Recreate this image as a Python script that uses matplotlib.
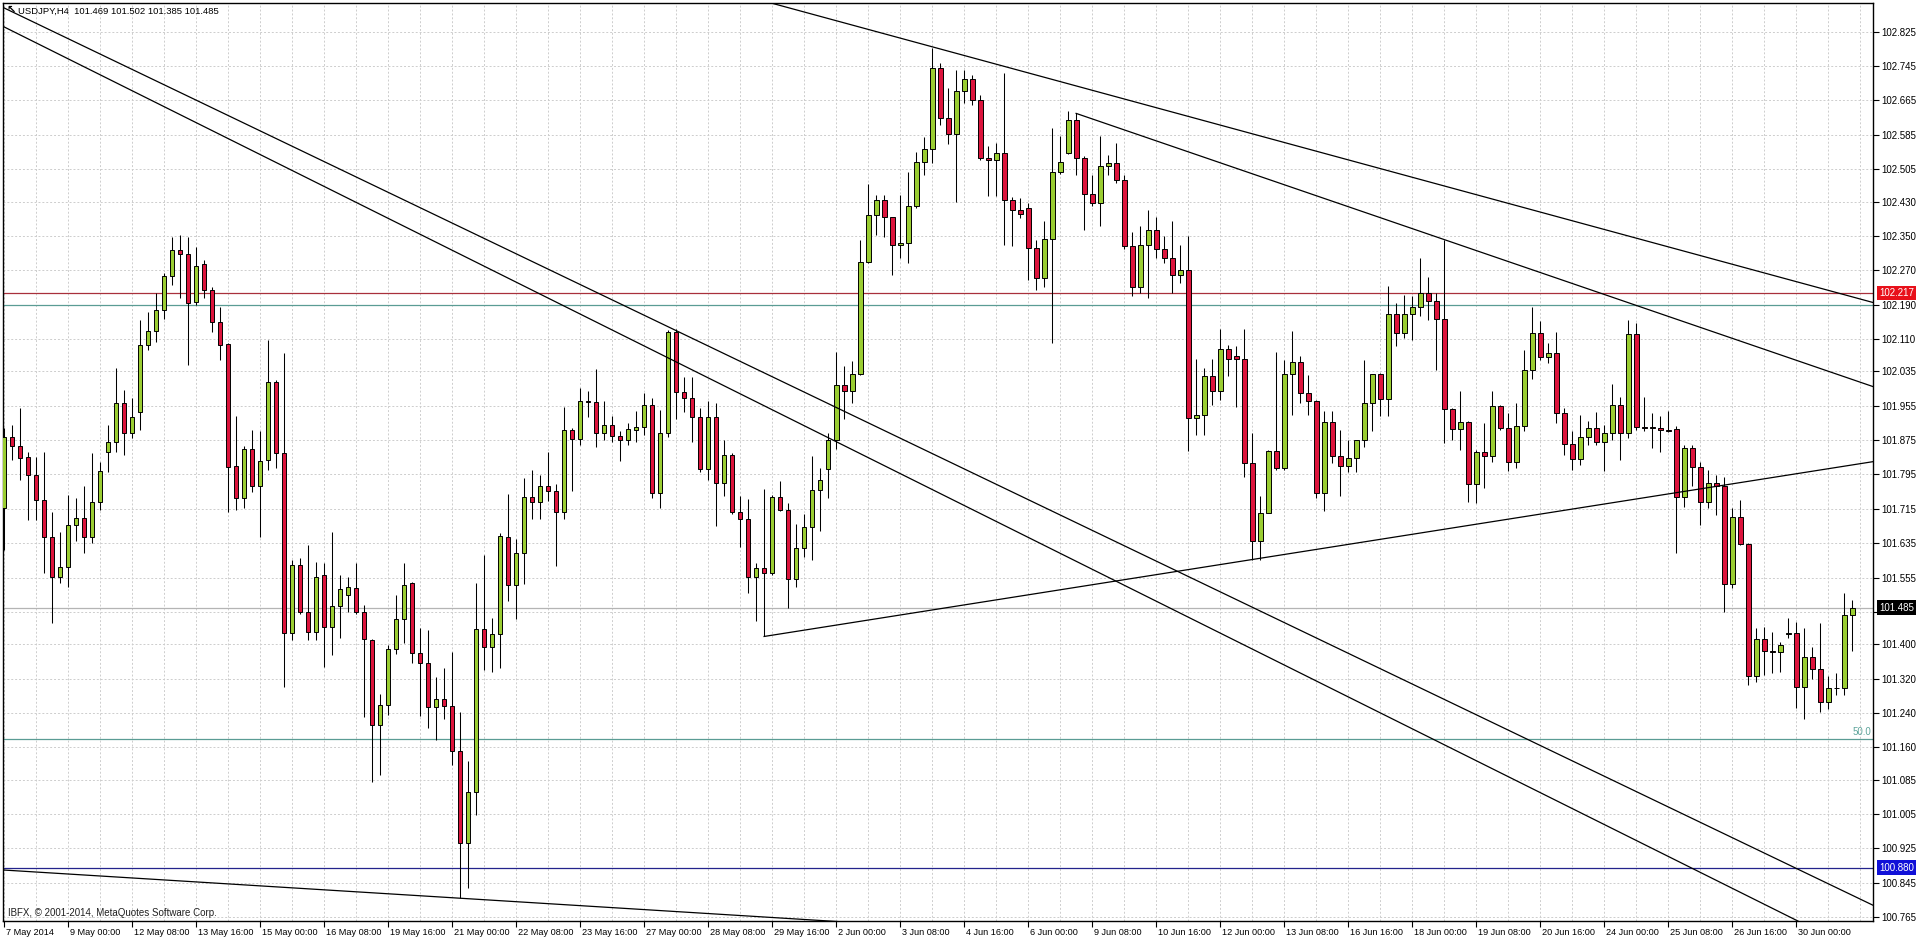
import matplotlib
matplotlib.use("Agg")
import matplotlib.pyplot as plt
import matplotlib.transforms as mtrans
from matplotlib.ticker import FixedLocator
import numpy as np

plt.rcParams['font.family'] = ['Liberation Sans', 'DejaVu Sans']

# USDJPY H4 bars, 7 May 16:00 .. 1 Jul 04:00
opens = [101.716, 101.883, 101.860, 101.836, 101.794, 101.736, 101.649, 101.557, 101.580, 101.677,
         101.693, 101.650, 101.732, 101.848, 101.871, 101.961, 101.891, 101.940, 102.096, 102.129,
         102.178, 102.257, 102.316, 102.308, 102.197, 102.285, 102.224, 102.149, 102.098, 101.815,
         101.740, 101.854, 101.768, 101.829, 102.011, 101.844, 101.426, 101.584, 101.476, 101.429,
         101.561, 101.441, 101.488, 101.514, 101.530, 101.476, 101.410, 101.212, 101.259, 101.388,
         101.458, 101.542, 101.379, 101.356, 101.253, 101.272, 101.257, 101.152, 100.937, 101.055,
         101.435, 101.393, 101.424, 101.650, 101.537, 101.613, 101.743, 101.732, 101.767, 101.756,
         101.707, 101.899, 101.878, 101.967, 101.964, 101.892, 101.910, 101.884, 101.875, 101.899,
         101.906, 101.957, 101.751, 101.892, 102.127, 101.986, 101.973, 101.929, 101.808, 101.929,
         101.776, 101.841, 101.707, 101.691, 101.556, 101.577, 101.566, 101.743, 101.713, 101.552,
         101.624, 101.672, 101.758, 101.808, 101.875, 102.003, 101.989, 102.029, 102.290, 102.398,
         102.433, 102.393, 102.328, 102.333, 102.419, 102.523, 102.553, 102.740, 102.625, 102.588,
         102.686, 102.715, 102.667, 102.531, 102.527, 102.544, 102.433, 102.411, 102.415, 102.322,
         102.252, 102.343, 102.498, 102.544, 102.619, 102.531, 102.448, 102.426, 102.513, 102.519,
         102.479, 102.327, 102.231, 102.329, 102.364, 102.319, 102.298, 102.260, 102.271, 101.926,
         101.934, 102.023, 101.988, 102.087, 102.071, 102.063, 101.821, 101.639, 101.705, 101.849,
         101.810, 102.029, 102.056, 101.984, 101.965, 101.752, 101.918, 101.837, 101.815, 101.833,
         101.874, 101.961, 102.029, 101.970, 102.169, 102.124, 102.169, 102.184, 102.217, 102.198,
         102.156, 101.947, 101.900, 101.918, 101.773, 101.848, 101.838, 101.954, 101.902, 101.825,
         101.908, 102.038, 102.125, 102.068, 102.077, 101.939, 101.866, 101.830, 101.883, 101.902,
         101.871, 101.892, 101.957, 101.891, 102.122, 101.906, 101.906, 101.902, 101.898, 101.900,
         101.743, 101.856, 101.813, 101.732, 101.774, 101.767, 101.540, 101.695, 101.633, 101.325,
         101.411, 101.385, 101.383, 101.424, 101.427, 101.301, 101.371, 101.342, 101.266, 101.297,
         101.299, 101.469]
highs = [101.902, 101.910, 101.949, 101.848, 101.836, 101.848, 101.708, 101.662, 101.747, 101.740,
         101.767, 101.844, 101.825, 101.910, 102.042, 101.992, 101.972, 102.154, 102.174, 102.217,
         102.263, 102.348, 102.352, 102.347, 102.325, 102.294, 102.230, 102.185, 102.100, 101.931,
         101.860, 101.899, 101.895, 102.108, 102.015, 102.077, 101.596, 101.600, 101.631, 101.592,
         101.588, 101.662, 101.560, 101.557, 101.588, 101.491, 101.412, 101.284, 101.398, 101.515,
         101.590, 101.545, 101.438, 101.433, 101.324, 101.344, 101.383, 101.243, 101.129, 101.542,
         101.607, 101.460, 101.658, 101.749, 101.645, 101.786, 101.805, 101.794, 101.848, 101.772,
         101.953, 101.903, 101.995, 101.989, 102.040, 101.967, 101.932, 101.897, 101.915, 101.943,
         101.984, 101.973, 101.946, 102.130, 102.133, 102.022, 102.022, 101.949, 101.967, 101.962,
         101.875, 101.845, 101.745, 101.737, 101.588, 101.762, 101.747, 101.780, 101.729, 101.680,
         101.702, 101.837, 101.810, 101.892, 102.079, 102.047, 102.060, 102.341, 102.471, 102.444,
         102.444, 102.395, 102.444, 102.498, 102.545, 102.580, 102.788, 102.753, 102.694, 102.737,
         102.735, 102.725, 102.678, 102.558, 102.566, 102.730, 102.440, 102.438, 102.426, 102.341,
         102.384, 102.601, 102.583, 102.640, 102.636, 102.535, 102.492, 102.583, 102.539, 102.566,
         102.492, 102.360, 102.372, 102.411, 102.395, 102.350, 102.384, 102.329, 102.349, 102.063,
         102.042, 102.063, 102.133, 102.097, 102.093, 102.133, 101.891, 101.744, 101.853, 102.081,
         102.062, 102.128, 102.070, 102.027, 101.969, 101.942, 101.942, 101.899, 101.876, 101.876,
         102.062, 102.029, 102.031, 102.234, 102.194, 102.213, 102.209, 102.298, 102.254, 102.217,
         102.340, 101.949, 101.988, 101.920, 101.853, 101.914, 101.988, 101.956, 101.937, 101.962,
         102.085, 102.185, 102.151, 102.100, 102.127, 101.949, 101.895, 101.933, 101.920, 101.941,
         101.910, 102.006, 101.976, 102.154, 102.147, 101.976, 101.939, 101.931, 101.943, 101.908,
         101.864, 101.864, 101.825, 101.805, 101.794, 101.788, 101.716, 101.736, 101.635, 101.437,
         101.441, 101.429, 101.406, 101.460, 101.452, 101.437, 101.394, 101.450, 101.325, 101.334,
         101.520, 101.502]
lows = [101.619, 101.829, 101.782, 101.689, 101.689, 101.565, 101.449, 101.542, 101.534, 101.639,
        101.612, 101.635, 101.712, 101.801, 101.848, 101.840, 101.879, 101.899, 102.085, 102.104,
        102.156, 102.236, 102.205, 102.050, 102.189, 102.205, 102.127, 102.061, 101.708, 101.712,
        101.716, 101.755, 101.650, 101.806, 101.809, 101.300, 101.410, 101.470, 101.410, 101.410,
        101.348, 101.375, 101.414, 101.476, 101.470, 101.230, 101.080, 101.096, 101.235, 101.377,
        101.402, 101.357, 101.232, 101.204, 101.177, 101.226, 101.119, 100.809, 100.832, 101.003,
        101.340, 101.336, 101.344, 101.501, 101.458, 101.539, 101.691, 101.691, 101.734, 101.583,
        101.691, 101.756, 101.864, 101.929, 101.859, 101.875, 101.870, 101.827, 101.864, 101.870,
        101.886, 101.740, 101.718, 101.881, 101.924, 101.940, 101.870, 101.800, 101.783, 101.675,
        101.745, 101.702, 101.626, 101.518, 101.455, 101.418, 101.560, 101.710, 101.485, 101.534,
        101.604, 101.596, 101.664, 101.740, 101.854, 101.924, 101.962, 102.027, 102.287, 102.352,
        102.347, 102.260, 102.298, 102.287, 102.415, 102.491, 102.520, 102.607, 102.563, 102.430,
        102.659, 102.655, 102.527, 102.442, 102.442, 102.329, 102.326, 102.391, 102.248, 102.225,
        102.232, 102.101, 102.495, 102.540, 102.492, 102.364, 102.419, 102.374, 102.492, 102.474,
        102.319, 102.209, 102.217, 102.205, 102.298, 102.287, 102.217, 102.240, 101.849, 101.887,
        101.887, 101.957, 101.969, 102.023, 101.953, 101.790, 101.597, 101.597, 101.705, 101.806,
        101.806, 101.934, 101.961, 101.934, 101.740, 101.709, 101.821, 101.744, 101.800, 101.800,
        101.859, 101.895, 101.932, 101.932, 102.093, 102.112, 102.108, 102.163, 102.155, 102.038,
        101.867, 101.875, 101.852, 101.732, 101.729, 101.763, 101.825, 101.899, 101.802, 101.809,
        101.895, 102.016, 102.061, 102.055, 101.914, 101.840, 101.805, 101.817, 101.864, 101.864,
        101.802, 101.875, 101.829, 101.879, 101.898, 101.895, 101.856, 101.848, 101.894, 101.613,
        101.720, 101.767, 101.677, 101.716, 101.701, 101.476, 101.530, 101.630, 101.305, 101.313,
        101.328, 101.334, 101.336, 101.414, 101.251, 101.225, 101.318, 101.243, 101.249, 101.282,
        101.282, 101.385]
closes = [101.883, 101.860, 101.833, 101.794, 101.736, 101.650, 101.557, 101.580, 101.677, 101.693,
          101.650, 101.732, 101.804, 101.871, 101.961, 101.891, 101.929, 102.096, 102.129, 102.178,
          102.257, 102.317, 102.308, 102.193, 102.280, 102.224, 102.149, 102.095, 101.813, 101.740,
          101.854, 101.768, 101.826, 102.011, 101.844, 101.427, 101.584, 101.476, 101.429, 101.557,
          101.441, 101.488, 101.528, 101.532, 101.476, 101.411, 101.212, 101.259, 101.388, 101.458,
          101.538, 101.380, 101.356, 101.253, 101.272, 101.257, 101.152, 100.937, 101.055, 101.435,
          101.393, 101.424, 101.652, 101.537, 101.613, 101.743, 101.732, 101.767, 101.756, 101.707,
          101.899, 101.878, 101.967, 101.964, 101.892, 101.910, 101.884, 101.875, 101.901, 101.906,
          101.957, 101.751, 101.892, 102.127, 101.986, 101.973, 101.929, 101.808, 101.929, 101.776,
          101.841, 101.707, 101.691, 101.556, 101.577, 101.566, 101.743, 101.713, 101.552, 101.624,
          101.672, 101.758, 101.783, 101.875, 102.003, 101.989, 102.029, 102.290, 102.398, 102.433,
          102.393, 102.328, 102.333, 102.419, 102.523, 102.553, 102.740, 102.625, 102.588, 102.686,
          102.715, 102.667, 102.531, 102.527, 102.544, 102.433, 102.411, 102.400, 102.322, 102.252,
          102.343, 102.498, 102.521, 102.619, 102.531, 102.448, 102.426, 102.513, 102.519, 102.479,
          102.327, 102.231, 102.329, 102.364, 102.319, 102.298, 102.260, 102.271, 101.926, 101.934,
          102.023, 101.988, 102.087, 102.063, 102.063, 101.821, 101.639, 101.705, 101.849, 101.810,
          102.029, 102.056, 101.984, 101.965, 101.752, 101.918, 101.837, 101.815, 101.833, 101.874,
          101.961, 102.029, 101.970, 102.169, 102.124, 102.169, 102.184, 102.217, 102.198, 102.156,
          101.947, 101.900, 101.918, 101.773, 101.848, 101.838, 101.954, 101.902, 101.825, 101.908,
          102.038, 102.125, 102.068, 102.077, 101.939, 101.866, 101.830, 101.883, 101.902, 101.871,
          101.892, 101.957, 101.891, 102.122, 101.906, 101.904, 101.902, 101.898, 101.896, 101.743,
          101.856, 101.813, 101.732, 101.774, 101.767, 101.540, 101.695, 101.633, 101.325, 101.411,
          101.385, 101.383, 101.398, 101.427, 101.301, 101.371, 101.342, 101.266, 101.297, 101.299,
          101.468, 101.485]

date_labels = ['7 May 2014', '9 May 00:00', '12 May 08:00', '13 May 16:00', '15 May 00:00',
               '16 May 08:00', '19 May 16:00', '21 May 00:00', '22 May 08:00', '23 May 16:00',
               '27 May 00:00', '28 May 08:00', '29 May 16:00', '2 Jun 00:00', '3 Jun 08:00',
               '4 Jun 16:00', '6 Jun 00:00', '9 Jun 08:00', '10 Jun 16:00', '12 Jun 00:00',
               '13 Jun 08:00', '16 Jun 16:00', '18 Jun 00:00', '19 Jun 08:00', '20 Jun 16:00',
               '24 Jun 00:00', '25 Jun 08:00', '26 Jun 16:00', '30 Jun 00:00']
price_ticks = [102.825, 102.745, 102.665, 102.585, 102.505, 102.430, 102.350, 102.270, 102.190,
               102.110, 102.035, 101.955, 101.875, 101.795, 101.715, 101.635, 101.555, 101.476,
               101.400, 101.320, 101.240, 101.160, 101.085, 101.005, 100.925, 100.845, 100.765]
price_labels = ['102.825', '102.745', '102.665', '102.585', '102.505', '102.430', '102.350',
                '102.270', '102.190', '102.110', '102.035', '101.955', '101.875', '101.795',
                '101.715', '101.635', '101.555', '', '101.400', '101.320', '101.240', '101.160',
                '101.085', '101.005', '100.925', '100.845', '100.765']

level_red = 102.217
level_teal = 102.190
level_fib50 = 101.180
level_blue = 100.880
last_price = 101.485

# trend lines: (first bar drawn, bar0, price0, bar1, price1, last bar drawn)
trend_lines = [
    (-0.4, -0.4, 102.840, 178.4, 101.181, 240),
    (-0.4, -0.4, 102.884, 178.4, 101.286, 240),
    (90, 116, 102.790, 234, 102.193, 240),
    (134, 134, 102.635, 179.6, 102.344, 240),
    (95, 95, 101.418, 156, 101.597, 240),
    (-0.4, -0.4, 100.875, 57, 100.809, 110),
]

W, H = 1916, 939
fig = plt.figure(figsize=(W / 100, H / 100), dpi=100)
ax = fig.add_axes([2.5 / W, (H - 921) / H, (1873 - 2.5) / W, (921 - 2.5) / H])
ax.set_xlim(-0.19, 233.6)
ax.set_ylim(100.756, 102.893)

o = np.array(opens)
h = np.array(highs)
l = np.array(lows)
c = np.array(closes)
x = np.arange(len(o))
up = c >= o
body_col = np.where(up, '#9acd32', '#dc143c')

ax.vlines(x, l, h, color='black', lw=0.75, zorder=3)
ax.bar(x, np.abs(c - o), bottom=np.minimum(o, c), width=0.6, color=body_col,
       edgecolor='black', linewidth=0.7, zorder=4)

# levels
ax.axhline(level_red, color='#a8303c', lw=0.9, zorder=2)
ax.axhline(level_teal, color='#5a9c94', lw=0.9, zorder=2)
ax.axhline(level_fib50, color='#5a9c94', lw=0.9, zorder=2)
ax.axhline(level_blue, color='#23238c', lw=0.9, zorder=2)
ax.axhline(last_price, color='#b4b4b4', lw=0.9, zorder=2)
ax.text(233.4, level_fib50 + 0.004, '50.0', ha='right', va='bottom', color='#5fa59c', fontsize=7)

for xs, x0, p0, x1, p1, xe in trend_lines:
    slope = (p1 - p0) / (x1 - x0)
    ax.plot([xs, xe], [p0 + slope * (xs - x0), p0 + slope * (xe - x0)],
            color='black', lw=0.9, zorder=5)

# grid
ax.set_xticks(np.arange(0, 232, 8))
ax.set_xticklabels(date_labels)
ax.xaxis.set_minor_locator(FixedLocator(np.arange(0, 234, 4)))
ax.set_yticks(price_ticks)
ax.set_yticklabels(price_labels)
ax.yaxis.tick_right()
ax.set_axisbelow(True)
grid_kw = dict(color='#cdcdcd', ls=(0, (2, 2)), lw=0.7)
ax.grid(axis='x', which='both', **grid_kw)
ax.grid(axis='y', which='major', **grid_kw)
ax.tick_params(axis='x', which='major', length=4, width=0.8, pad=1, labelsize=6.6)
ax.tick_params(axis='x', which='minor', length=0)
ax.tick_params(axis='y', length=4, width=0.8, pad=2, labelsize=7)
off = mtrans.ScaledTranslation(2 / 100, 0, fig.dpi_scale_trans)
for lbl in ax.get_xticklabels():
    lbl.set_horizontalalignment('left')
    lbl.set_transform(lbl.get_transform() + off)
for sp in ax.spines.values():
    sp.set_color('black')
    sp.set_linewidth(1)

# price boxes on the scale
ytr = ax.get_yaxis_transform()
bx = 1.0 + 6 / 1870.5
for val, txt, fc in [(level_red, '102.217', '#e8101a'),
                     (last_price, '101.485', '#000000'),
                     (level_blue, '100.880', '#1010d8')]:
    ax.text(bx, val, txt, transform=ytr, ha='left', va='center', color='white', fontsize=7,
            clip_on=False, zorder=10,
            bbox=dict(boxstyle='square,pad=0.25', fc=fc, ec='none'))

fig.text(6 / W, 1 - 10 / H, '\u2196', fontsize=8, fontweight='bold', va='center',
         family=['DejaVu Sans'])
fig.text(18 / W, 1 - 11 / H, 'USDJPY,H4  101.469 101.502 101.385 101.485', va='center',
         fontsize=6.8, color='black')
fig.text(8 / W, 1 - 913 / H, 'IBFX, \u00a9 2001-2014, MetaQuotes Software Corp.', va='center',
         fontsize=7, color='#202020')

fig.savefig('out.png', dpi=100)
